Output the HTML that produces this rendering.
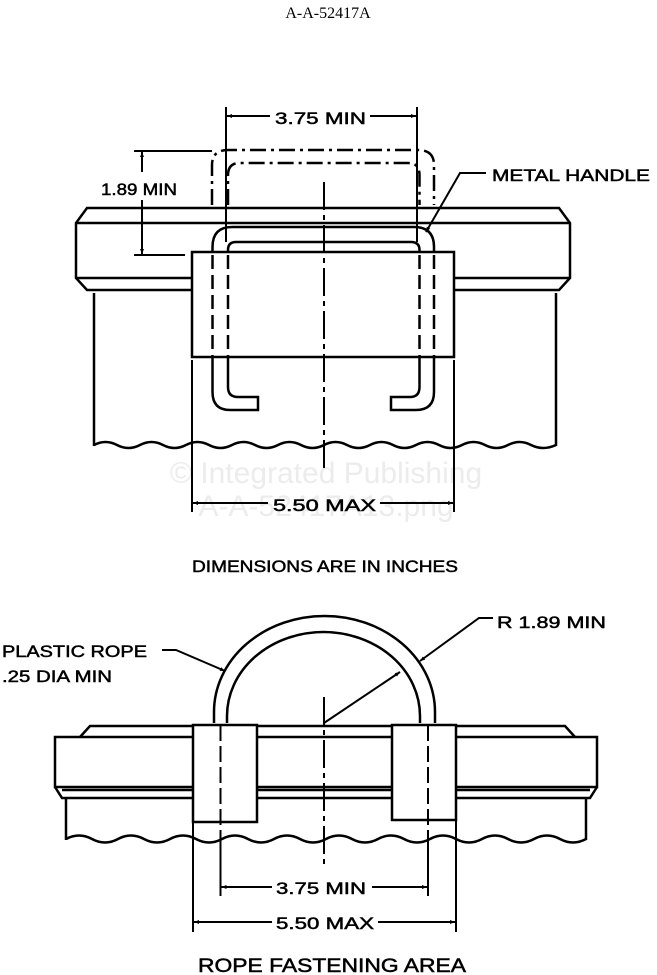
<!DOCTYPE html>
<html><head><meta charset="utf-8"><style>
html,body{margin:0;padding:0;background:#fff;}
svg{display:block;}
text{font-family:"Liberation Sans",sans-serif;fill:#000;}
.t{stroke:#000;stroke-width:0.5;}
</style></head><body>
<svg width="657" height="975" viewBox="0 0 657 975" xmlns="http://www.w3.org/2000/svg">
<defs>
<marker id="a" viewBox="0 0 10 10" refX="10" refY="5" markerWidth="7" markerHeight="5" orient="auto-start-reverse" markerUnits="userSpaceOnUse"><path d="M0,1 L10,5 L0,9z" fill="#000"/></marker>
</defs>
<text x="328" y="18" text-anchor="middle" style="font-family:'Liberation Serif',serif;font-size:16px">A-A-52417A</text>
<text x="326" y="483" font-size="30" text-anchor="middle" style="fill:#ececec">© Integrated Publishing</text>
<text x="326" y="516" font-size="30" text-anchor="middle" style="fill:#ececec">A-A-52417A13.png</text>

<g fill="none" stroke="#000" stroke-width="2.5">
<path d="M87,208 L559,208 L570,223 L570,278 L559,290 L87,290 L76,278 L76,223 Z" fill="#fff"/>
<line x1="76" y1="223" x2="570" y2="223"/>
<line x1="76" y1="278" x2="570" y2="278"/>
<line x1="94" y1="293" x2="94" y2="446"/>
<line x1="556" y1="293" x2="556" y2="446"/>
<path d="M94,445 Q105.5,439 117,445 Q128.5,451 140,445 Q151.5,439 163,445 Q174.5,451 186,445 Q197.5,439 209,445 Q220.5,451 232,445 Q243.5,439 255,445 Q266.5,451 278,445 Q289.5,439 301,445 Q312.5,451 324,445 Q335.5,439 347,445 Q358.5,451 370,445 Q381.5,439 393,445 Q404.5,451 416,445 Q427.5,439 439,445 Q450.5,451 462,445 Q473.5,439 485,445 Q496.5,451 508,445 Q519.5,439 531,445 Q543,451 556,445"/>
<rect x="192" y="252" width="262" height="105" fill="#fff"/>
<path d="M212.5,252 L212.5,247 Q212.5,227 232,227 L414,227 Q434,227 434,247 L434,252"/>
<path d="M228,252 L228,250 Q228,242 236,242 L411,242 Q419.5,242 419.5,250 L419.5,252"/>
<g stroke-dasharray="14,6">
<line x1="212.5" y1="255" x2="212.5" y2="357"/>
<line x1="228" y1="255" x2="228" y2="357"/>
<line x1="419.5" y1="255" x2="419.5" y2="357"/>
<line x1="434" y1="255" x2="434" y2="357"/>
</g>
<path d="M212.5,357 L212.5,392 Q212.5,410 230,410 L258,410 L258,397 L238,397 Q228,397 228,387 L228,357"/>
<path d="M434,357 L434,392 Q434,410 416,410 L391,410 L391,397 L410,397 Q419.5,397 419.5,387 L419.5,357"/>
<g stroke-dasharray="16,5,3,5">
<path d="M212,205 L212,165 Q212,150 228,150 L418,150 Q434,150 434,165 L434,205"/>
<path d="M228,205 L228,175 Q228,163 240,163 L408,163 Q419.5,163 419.5,175 L419.5,205"/>
</g>
</g>
<g stroke="#000" stroke-width="2" fill="none">
<line x1="324" y1="182" x2="324" y2="470" stroke-dasharray="28,5,5,5"/>
<line x1="226" y1="107" x2="226" y2="242"/>
<line x1="417" y1="107" x2="417" y2="242"/>
<line x1="270" y1="116" x2="227" y2="116" marker-end="url(#a)"/>
<line x1="370" y1="116" x2="416" y2="116" marker-end="url(#a)"/>
<line x1="134" y1="151" x2="212" y2="151"/>
<line x1="134" y1="255" x2="185" y2="255"/>
<line x1="142" y1="172" x2="142" y2="152" marker-end="url(#a)"/>
<line x1="142" y1="200" x2="142" y2="254" marker-end="url(#a)"/>
<line x1="192" y1="360" x2="192" y2="512"/>
<line x1="454" y1="360" x2="454" y2="512"/>
<line x1="268" y1="503" x2="193" y2="503" marker-end="url(#a)"/>
<line x1="380" y1="503" x2="453" y2="503" marker-end="url(#a)"/>
<polyline points="486,173 460,173 426,232" marker-end="url(#a)"/>
</g>
<text class="t" x="275" y="124" font-size="17" textLength="91" lengthAdjust="spacingAndGlyphs">3.75 MIN</text>
<text class="t" x="101" y="195" font-size="17" textLength="76" lengthAdjust="spacingAndGlyphs">1.89 MIN</text>
<text class="t" x="492" y="181" font-size="17" textLength="158" lengthAdjust="spacingAndGlyphs">METAL HANDLE</text>
<text class="t" x="273" y="511" font-size="17" textLength="103" lengthAdjust="spacingAndGlyphs">5.50 MAX</text>
<text class="t" x="192" y="572" font-size="17" textLength="266" lengthAdjust="spacingAndGlyphs">DIMENSIONS ARE IN INCHES</text>

<g fill="none" stroke="#000" stroke-width="2.5">
<path d="M214,723 L214,712 A110.5,96 0 0 1 435,712 L435,723"/>
<path d="M227,723 L227,716 A96.5,84 0 0 1 420,716 L420,723"/>
<path d="M80,737 L90,726 L565,726 L575,737"/>
<rect x="55" y="737" width="542" height="50" fill="#fff"/>
<path d="M55,787 L62,798 L590,798 L597,787"/>
<line x1="62" y1="790" x2="590" y2="790"/>
<line x1="66" y1="798" x2="66" y2="840"/>
<line x1="586" y1="798" x2="586" y2="840"/>
<path d="M66,839 Q79,832 92,839 Q105,846 118,839 Q131,832 144,839 Q157,846 170,839 Q183,832 196,839 Q209,846 222,839 Q235,832 248,839 Q261,846 274,839 Q287,832 300,839 Q313,846 326,839 Q339,832 352,839 Q365,846 378,839 Q391,832 404,839 Q417,846 430,839 Q443,832 456,839 Q469,846 482,839 Q495,832 508,839 Q521,846 534,839 Q547,832 560,839 Q573,846 586,839"/>
<rect x="193" y="725" width="64" height="97" fill="#fff"/>
<rect x="392" y="725" width="64" height="95" fill="#fff"/>
</g>
<g stroke="#000" stroke-width="2" fill="none">
<line x1="220.5" y1="725" x2="220.5" y2="830" stroke-dasharray="16,5"/>
<line x1="428" y1="725" x2="428" y2="830" stroke-dasharray="16,5"/>
<line x1="220.5" y1="830" x2="220.5" y2="896"/>
<line x1="428" y1="830" x2="428" y2="896"/>
<line x1="324" y1="697" x2="324" y2="867" stroke-dasharray="28,5,5,5"/>
<line x1="193" y1="822" x2="193" y2="932"/>
<line x1="456" y1="820" x2="456" y2="932"/>
<line x1="272" y1="887" x2="221.5" y2="887" marker-end="url(#a)"/>
<line x1="372" y1="887" x2="427" y2="887" marker-end="url(#a)"/>
<line x1="272" y1="922" x2="194" y2="922" marker-end="url(#a)"/>
<line x1="378" y1="922" x2="455" y2="922" marker-end="url(#a)"/>
<line x1="324" y1="723" x2="400" y2="672" marker-end="url(#a)"/>
<polyline points="493,618 479,618 420,661" marker-end="url(#a)"/>
<polyline points="162,650 176,650 225,671" marker-end="url(#a)"/>
</g>
<text class="t" x="497" y="628" font-size="17" textLength="109" lengthAdjust="spacingAndGlyphs">R  1.89 MIN</text>
<text class="t" x="2" y="657" font-size="17" textLength="145" lengthAdjust="spacingAndGlyphs">PLASTIC ROPE</text>
<text class="t" x="2" y="682" font-size="17" textLength="110" lengthAdjust="spacingAndGlyphs">.25 DIA MIN</text>
<text class="t" x="276" y="894" font-size="17" textLength="90" lengthAdjust="spacingAndGlyphs">3.75 MIN</text>
<text class="t" x="276" y="929" font-size="17" textLength="98" lengthAdjust="spacingAndGlyphs">5.50 MAX</text>
<text class="t" x="198" y="972" font-size="19" textLength="268" lengthAdjust="spacingAndGlyphs">ROPE FASTENING AREA</text>
</svg>
</body></html>
